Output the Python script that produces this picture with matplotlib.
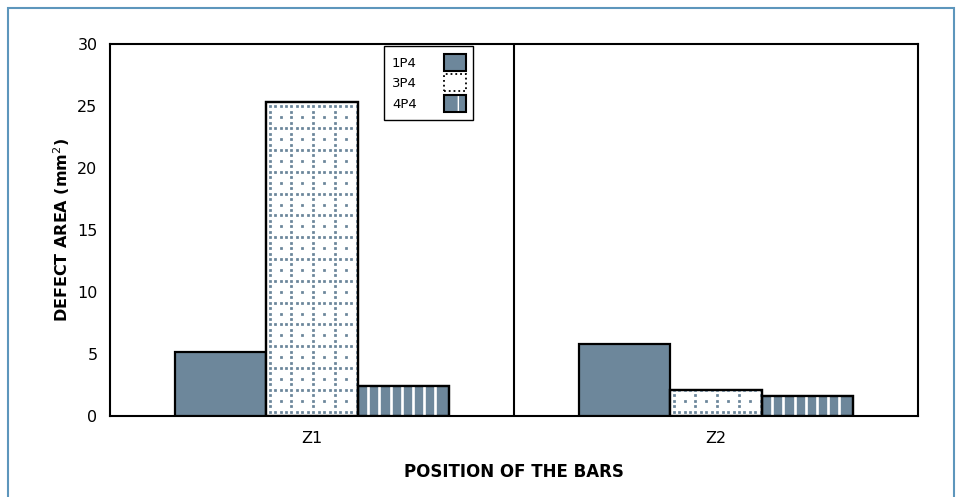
import numpy as np
import matplotlib
matplotlib.use("Agg")
import matplotlib.pyplot as plt
from matplotlib.patches import Patch, Rectangle
from matplotlib.legend_handler import HandlerTuple

# Data
positions = ["Z1", "Z2"]
series = ["1P4", "3P4", "4P4"]
val_1p4 = [5.2, 5.8]
val_3p4 = [25.3, 2.1]
val_4p4 = [2.4, 1.6]
yticks = [0, 5, 10, 15, 20, 25, 30]

BLUE = "#6d879b"
DOT = "#6a859a"
plt.rcParams["font.family"] = ["DejaVu Sans"]

fig = plt.figure(figsize=(9.62, 4.97), dpi=100)
ax = fig.add_axes([110 / 962, 81 / 497, 808 / 962, 372 / 497])

x = np.arange(len(positions))
w = 0.226
values = [val_1p4, val_3p4, val_4p4]
offsets = [-w, 0, w]

px_x = 808 / 2.0   # pixels per x unit
px_y = 372 / 30.0  # pixels per y unit

bars_1 = ax.bar(x + offsets[0], values[0], w, facecolor=BLUE,
                edgecolor="black", linewidth=1.6, zorder=3)
bars_3 = ax.bar(x + offsets[1], values[1], w, facecolor="white",
                edgecolor="black", linewidth=1.6, zorder=3)
bars_4 = ax.bar(x + offsets[2], values[2], w, facecolor=BLUE,
                edgecolor="black", linewidth=1.6, zorder=3)

# dotted grid fill for the 3P4 bars
step = 5.45
for b in bars_3:
    x0, h = b.get_x(), b.get_height()
    ni = int(b.get_width() * px_x / step) + 2
    nj = int(h * px_y / step) + 2
    xs, ys = [], []
    for i in range(ni):
        for j in range(nj):
            if i % 4 == 0 or j % 4 == 0 or (i % 2 == 0 and j % 2 == 0):
                xs.append(x0 + (i + 0.6) * step / px_x)
                ys.append((j + 0.8) * step / px_y)
    sc = ax.scatter(xs, ys, s=3.9, marker="s", color=DOT, linewidths=0,
                    zorder=3.5)
    sc.set_snap(False)
    sc.set_clip_path(b)
    ax.add_patch(Rectangle((b.get_x(), 0), b.get_width(), h,
                           facecolor="none", edgecolor="black",
                           linewidth=1.6, zorder=4))

# white vertical stripes for the 4P4 bars
sstep = 11.2
for b in bars_4:
    x0, h = b.get_x(), b.get_height()
    xs = x0 + np.arange(sstep * 0.95, b.get_width() * px_x - 3, sstep) / px_x
    lc = ax.vlines(xs, 0, h, color="white", linewidth=1.9, zorder=3.5)
    lc.set_clip_path(b)
    ax.add_patch(Rectangle((b.get_x(), 0), b.get_width(), h,
                           facecolor="none", edgecolor="black",
                           linewidth=1.6, zorder=4))

# divider between positions
ax.axvline(0.5, color="black", linewidth=1.5, zorder=2)

ax.set_xlim(-0.5, 1.5)
ax.set_ylim(0, 30)
ax.set_yticks(yticks)
ax.set_xticks(x)
ax.set_xticklabels(positions)
ax.tick_params(axis="both", length=0, labelsize=11.5, pad=9)
ax.tick_params(axis="x", pad=11)
for s in ax.spines.values():
    s.set_linewidth(1.5)

ax.set_xlabel("POSITION OF THE BARS", fontsize=12, fontweight="bold",
              labelpad=12)
ax.set_ylabel("DEFECT AREA (mm$^2$)", fontsize=11.5, fontweight="bold",
              labelpad=4)

# legend
h1 = Patch(facecolor=BLUE, edgecolor="black", linewidth=1.5)
h3 = (Patch(facecolor="white", edgecolor=DOT, hatch=":", linewidth=0),
      Patch(facecolor="none", edgecolor="black", linewidth=1.3,
            linestyle=":"))
h4 = (Patch(facecolor=BLUE, edgecolor="white", hatch="|", linewidth=0),
      Patch(facecolor="none", edgecolor="black", linewidth=1.5))
leg = ax.legend([h1, h3, h4], series, loc="upper left",
                bbox_to_anchor=(0.339, 0.995), borderaxespad=0,
                markerfirst=False, fontsize=9.5,
                handlelength=1.6, handleheight=1.6,
                labelspacing=0.28, handletextpad=2.1,
                borderpad=0.6, fancybox=False, framealpha=1,
                edgecolor="black",
                handler_map={tuple: HandlerTuple(ndivide=1, pad=0)})
leg.get_frame().set_linewidth(1.0)
leg.set_zorder(10)

# outer frame
fig.add_artist(Rectangle((8 / 962, -0.1), 946 / 962, 1.1 - 8 / 497,
                         transform=fig.transFigure, facecolor="none",
                         edgecolor="#5d96bc", linewidth=1.5))

fig.savefig("out.png", dpi=100)
